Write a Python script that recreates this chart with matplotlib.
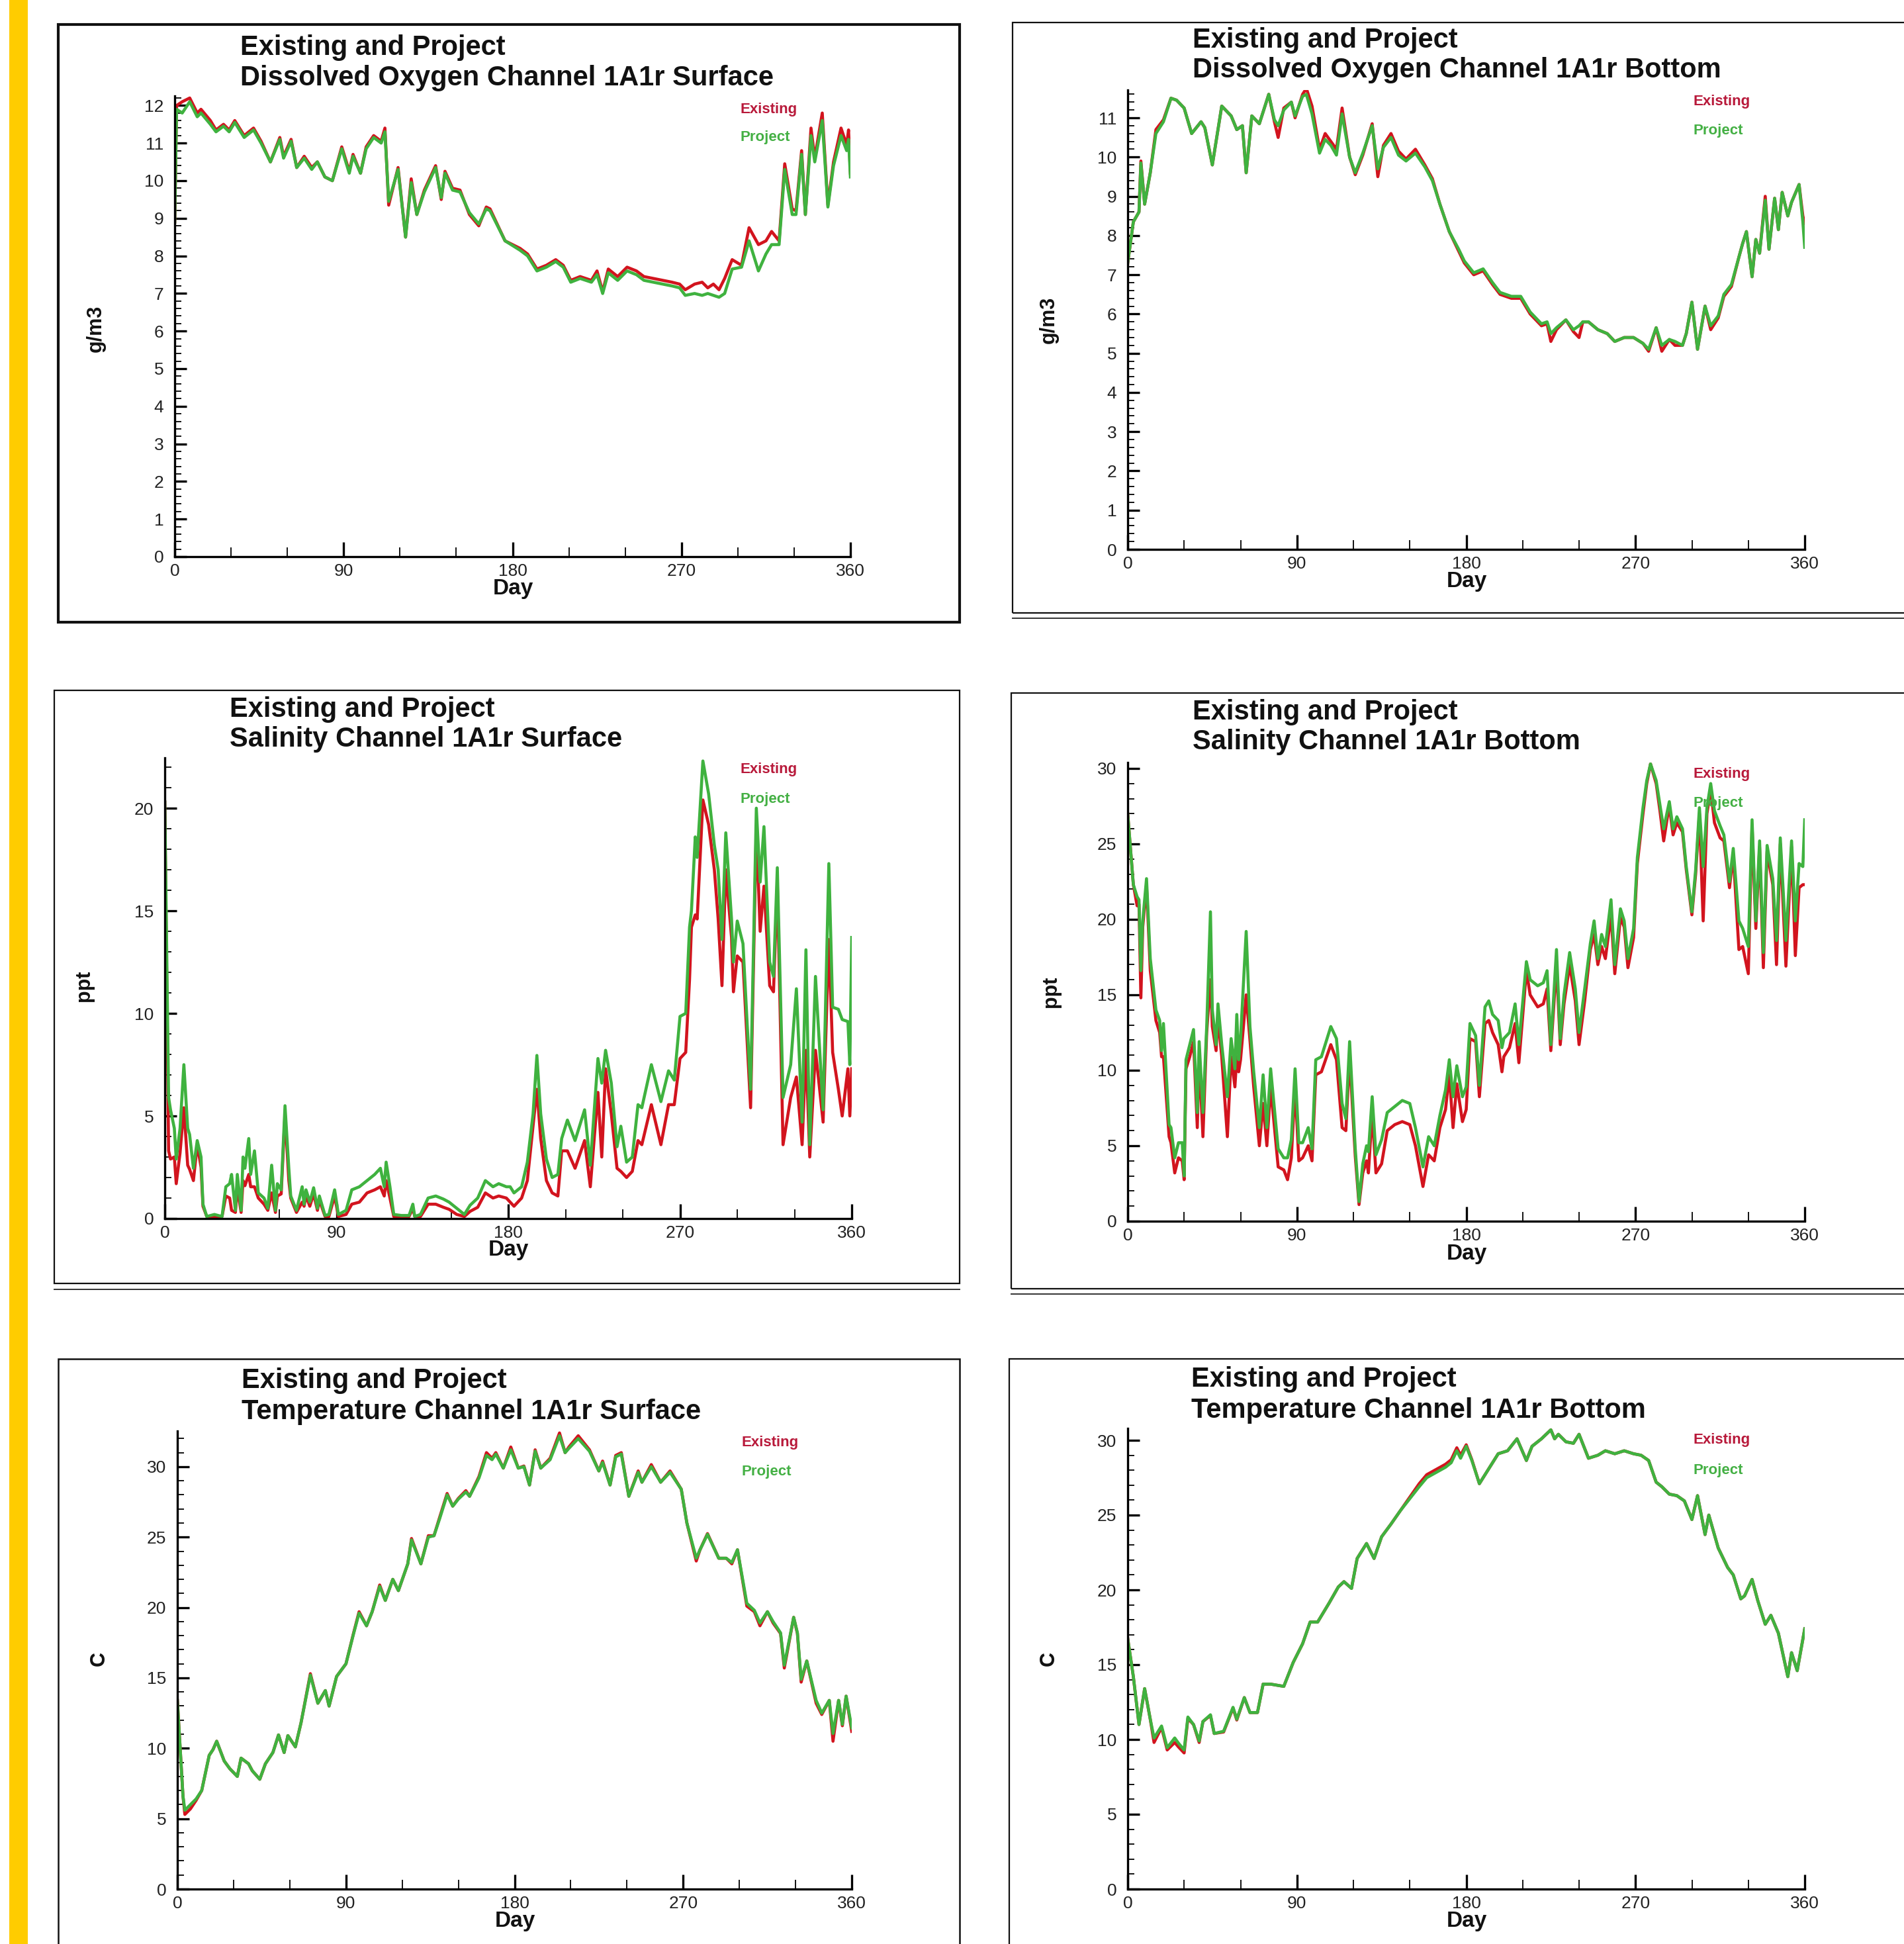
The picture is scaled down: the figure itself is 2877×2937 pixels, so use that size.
import matplotlib
matplotlib.use("Agg")
import matplotlib.pyplot as plt
from matplotlib.patches import Rectangle
from matplotlib.lines import Line2D
from matplotlib.ticker import MultipleLocator, AutoMinorLocator

plt.rcParams['font.family'] = ['Liberation Sans', 'DejaVu Sans']

# ---- data (day, value) ----
do_surf_day = [0, 1, 4, 8, 12, 14, 19, 22, 26, 29,
               32, 37, 42, 46, 51, 56, 58, 62, 65, 69,
               73, 76, 80, 84, 89, 93, 95, 99, 102, 106,
               110, 112, 114, 119, 123, 126, 129, 133, 139, 142,
               144, 148, 152, 157, 162, 166, 168, 176, 184, 188,
               193, 198, 203, 207, 211, 216, 222, 225, 228, 231,
               236, 241, 246, 250, 255, 260, 265, 269, 272, 277,
               281, 284, 287, 290, 293, 297, 302, 306, 311, 315,
               318, 322, 325, 329, 331, 334, 336, 339, 341, 345,
               348, 351, 355, 358, 359, 360]
do_surf_exist = [8.9, 12.0, 12.1, 12.2, 11.8, 11.9, 11.6, 11.35, 11.5, 11.35,
                 11.6, 11.2, 11.4, 11.05, 10.5, 11.15, 10.65, 11.1, 10.35, 10.65,
                 10.35, 10.5, 10.1, 10.0, 10.9, 10.25, 10.7, 10.2, 10.9, 11.2,
                 11.05, 11.4, 9.35, 10.35, 8.5, 10.05, 9.1, 9.75, 10.4, 9.5,
                 10.25, 9.8, 9.75, 9.1, 8.8, 9.3, 9.25, 8.4, 8.2, 8.05,
                 7.65, 7.75, 7.9, 7.75, 7.35, 7.45, 7.35, 7.6, 7.05, 7.65,
                 7.45, 7.7, 7.6, 7.45, 7.4, 7.35, 7.3, 7.25, 7.1, 7.25,
                 7.3, 7.15, 7.25, 7.1, 7.4, 7.9, 7.75, 8.75, 8.3, 8.4,
                 8.65, 8.4, 10.45, 9.25, 9.2, 10.8, 9.1, 11.4, 10.6, 11.8,
                 9.35, 10.5, 11.4, 10.95, 11.35, 10.2]
do_surf_proj = [8.9, 11.9, 11.8, 12.1, 11.7, 11.8, 11.5, 11.3, 11.45, 11.3,
                11.55, 11.15, 11.35, 11.0, 10.5, 11.1, 10.6, 11.05, 10.35, 10.6,
                10.3, 10.5, 10.1, 10.0, 10.85, 10.2, 10.65, 10.2, 10.85, 11.15,
                11.0, 11.3, 9.45, 10.3, 8.5, 9.95, 9.1, 9.7, 10.35, 9.55,
                10.2, 9.75, 9.7, 9.15, 8.85, 9.25, 9.2, 8.4, 8.15, 8.0,
                7.6, 7.7, 7.85, 7.7, 7.3, 7.4, 7.3, 7.5, 7.0, 7.55,
                7.35, 7.6, 7.5, 7.35, 7.3, 7.25, 7.2, 7.15, 6.95, 7.0,
                6.95, 7.0, 6.95, 6.9, 7.0, 7.65, 7.7, 8.4, 7.6, 8.05,
                8.3, 8.3, 10.3, 9.1, 9.1, 10.7, 9.1, 11.2, 10.5, 11.6,
                9.3, 10.4, 11.2, 10.8, 11.1, 10.1]

do_bot_day = [0, 3, 6, 7, 9, 12, 15, 19, 23, 26,
              30, 34, 39, 41, 45, 50, 55, 58, 61, 63,
              66, 70, 72, 75, 78, 80, 83, 87, 89, 93,
              95, 98, 102, 105, 108, 111, 114, 118, 121, 125,
              130, 133, 136, 140, 144, 148, 153, 158, 162, 166,
              171, 176, 179, 184, 189, 194, 198, 204, 209, 214,
              220, 223, 225, 228, 233, 237, 240, 242, 245, 250,
              255, 259, 264, 269, 274, 277, 281, 284, 288, 291,
              295, 297, 300, 303, 307, 310, 314, 317, 321, 325,
              327, 329, 332, 334, 336, 339, 341, 344, 346, 348,
              351, 353, 357, 359, 360]
do_bot_exist = [7.3, 8.35, 8.6, 9.9, 8.8, 9.6, 10.7, 10.95, 11.5, 11.45,
                11.25, 10.6, 10.9, 10.75, 9.8, 11.3, 11.05, 10.7, 10.8, 9.6,
                11.05, 10.85, 11.15, 11.6, 10.9, 10.5, 11.25, 11.4, 11.0, 11.6,
                11.75, 11.3, 10.2, 10.6, 10.4, 10.2, 11.25, 10.0, 9.55, 10.05,
                10.85, 9.5, 10.3, 10.6, 10.15, 9.95, 10.2, 9.8, 9.45, 8.8,
                8.1, 7.6, 7.3, 7.0, 7.1, 6.75, 6.5, 6.4, 6.4, 6.0,
                5.7, 5.75, 5.3, 5.6, 5.85, 5.55, 5.4, 5.8, 5.8, 5.6,
                5.5, 5.3, 5.4, 5.4, 5.25, 5.05, 5.65, 5.05, 5.35, 5.2,
                5.2, 5.5, 6.3, 5.1, 6.2, 5.6, 5.9, 6.45, 6.7, 7.45,
                7.8, 8.1, 6.95, 7.9, 7.55, 9.0, 7.65, 8.95, 8.15, 9.1,
                8.5, 8.85, 9.3, 8.5, 8.3]
do_bot_proj = [7.3, 8.35, 8.6, 9.85, 8.8, 9.6, 10.6, 10.9, 11.5, 11.45,
               11.25, 10.6, 10.9, 10.75, 9.8, 11.3, 11.05, 10.7, 10.8, 9.6,
               11.05, 10.85, 11.15, 11.6, 10.95, 10.8, 11.2, 11.4, 11.05, 11.55,
               11.6, 11.1, 10.1, 10.45, 10.3, 10.05, 11.1, 10.0, 9.6, 10.1,
               10.8, 9.7, 10.25, 10.5, 10.05, 9.9, 10.1, 9.75, 9.4, 8.8,
               8.1, 7.65, 7.35, 7.05, 7.15, 6.8, 6.55, 6.45, 6.45, 6.05,
               5.75, 5.8, 5.5, 5.65, 5.85, 5.6, 5.7, 5.8, 5.8, 5.6,
               5.5, 5.3, 5.4, 5.4, 5.25, 5.1, 5.65, 5.2, 5.35, 5.3,
               5.2, 5.5, 6.3, 5.1, 6.2, 5.7, 5.95, 6.5, 6.75, 7.45,
               7.8, 8.1, 6.95, 7.9, 7.55, 8.9, 7.65, 8.95, 8.15, 9.1,
               8.5, 8.85, 9.3, 8.35, 7.7]

sal_surf_day = [0, 2, 3, 5, 6, 8, 10, 12, 13, 15,
                17, 19, 20, 22, 26, 30, 32, 34, 35, 37,
                38, 40, 41, 42, 44, 45, 47, 49, 52, 54,
                56, 58, 59, 61, 63, 65, 66, 69, 72, 73,
                74, 76, 78, 80, 81, 84, 86, 89, 91, 95,
                98, 102, 106, 110, 113, 115, 116, 118, 120, 124,
                128, 130, 131, 134, 138, 142, 146, 149, 153, 157,
                160, 164, 168, 172, 175, 179, 181, 183, 187, 190,
                193, 195, 197, 200, 203, 206, 208, 211, 215, 220,
                223, 227, 229, 231, 234, 237, 239, 242, 245, 248,
                250, 255, 260, 264, 267, 270, 273, 275, 276, 278,
                279, 282, 285, 288, 290, 292, 294, 297, 298, 300,
                303, 307, 310, 312, 314, 317, 319, 321, 324, 328,
                331, 334, 336, 338, 341, 345, 348, 350, 353, 355,
                358, 359, 360]
sal_surf_exist = [20.3, 3.3, 2.9, 3.0, 1.7, 3.2, 5.4, 2.6, 2.4, 1.85,
                  3.6, 2.5, 0.6, 0.1, 0.1, 0.1, 1.1, 1.0, 0.4, 0.3,
                  1.5, 0.3, 1.85, 1.6, 2.15, 1.55, 1.55, 1.0, 0.7, 0.4,
                  1.25, 0.3, 1.1, 1.2, 5.1, 1.85, 1.0, 0.3, 0.8, 0.6,
                  1.1, 0.6, 1.2, 0.4, 0.9, 0.1, 0.1, 1.1, 0.1, 0.2,
                  0.7, 0.8, 1.25, 1.4, 1.55, 1.1, 1.85, 1.0, 0.1, 0.1,
                  0.1, 0.5, 0.1, 0.1, 0.7, 0.7, 0.55, 0.45, 0.2, 0.1,
                  0.35, 0.55, 1.25, 1.0, 1.1, 1.0, 0.8, 0.6, 1.0, 1.85,
                  4.5, 6.3, 3.9, 1.85, 1.25, 1.1, 3.3, 3.3, 2.45, 3.8,
                  1.55, 6.15, 3.0, 7.3, 5.1, 2.45, 2.3, 2.0, 2.3, 3.8,
                  3.6, 5.55, 3.6, 5.55, 5.55, 7.8, 8.1, 11.65, 14.2, 14.8,
                  14.6, 20.4, 19.2, 17.0, 14.6, 11.35, 17.0, 13.7, 11.05, 12.8,
                  12.5, 5.4, 19.1, 14.0, 16.2, 11.35, 11.05, 16.4, 3.6, 5.9,
                  6.9, 3.6, 8.2, 3.0, 8.2, 4.7, 13.6, 8.1, 6.3, 5.0,
                  7.3, 5.0, 7.3]
sal_surf_proj = [20.3, 5.9, 5.3, 4.4, 2.9, 4.4, 7.5, 4.4, 4.1, 2.45,
                 3.8, 3.0, 0.7, 0.1, 0.2, 0.1, 1.55, 1.7, 2.15, 0.4,
                 2.15, 0.4, 3.0, 2.45, 3.9, 2.15, 3.3, 1.25, 1.0, 0.5,
                 2.6, 0.4, 1.7, 1.4, 5.5, 2.45, 1.1, 0.4, 1.55, 0.7,
                 1.4, 0.8, 1.5, 0.5, 1.1, 0.15, 0.2, 1.4, 0.2, 0.4,
                 1.4, 1.55, 1.85, 2.15, 2.45, 1.55, 2.75, 1.55, 0.2, 0.15,
                 0.15, 0.7, 0.1, 0.2, 1.0, 1.1, 0.95, 0.8, 0.5, 0.2,
                 0.65, 1.0, 1.85, 1.55, 1.7, 1.55, 1.55, 1.25, 1.55, 2.75,
                 5.1, 7.95, 5.1, 2.9, 2.0, 2.15, 3.9, 4.8, 3.8, 5.3,
                 2.6, 7.8, 6.6, 8.2, 6.6, 3.5, 4.5, 2.75, 3.0, 5.55,
                 5.4, 7.5, 5.7, 7.2, 6.75, 9.85, 10.0, 14.2, 15.0, 18.6,
                 17.6, 22.3, 20.7, 18.2, 17.0, 13.6, 18.8, 14.6, 12.5, 14.5,
                 13.4, 6.3, 20.0, 16.4, 19.1, 12.5, 11.8, 17.1, 5.9, 7.5,
                 11.2, 4.7, 13.1, 3.6, 11.8, 5.3, 17.3, 10.3, 10.2, 9.7,
                 9.6, 7.5, 13.7]

sal_bot_day = [0, 3, 5, 6, 7, 8, 10, 12, 15, 17,
               18, 19, 22, 23, 25, 27, 29, 30, 31, 33,
               35, 37, 38, 40, 42, 44, 45, 47, 48, 50,
               53, 55, 57, 58, 59, 60, 63, 65, 67, 70,
               72, 74, 76, 80, 83, 85, 87, 89, 91, 93,
               96, 98, 100, 103, 108, 111, 114, 116, 118, 121,
               123, 125, 127, 128, 130, 132, 135, 138, 142, 146,
               150, 153, 157, 160, 163, 166, 169, 171, 173, 175,
               178, 180, 182, 185, 187, 190, 192, 194, 197, 199,
               200, 203, 206, 208, 212, 214, 218, 221, 223, 225,
               228, 230, 232, 235, 238, 240, 243, 246, 248, 250,
               252, 254, 257, 259, 262, 264, 266, 269, 271, 274,
               276, 278, 281, 283, 285, 287, 288, 290, 292, 295,
               297, 300, 302, 304, 306, 308, 310, 312, 315, 317,
               320, 322, 325, 327, 330, 332, 334, 336, 338, 340,
               343, 345, 347, 350, 353, 355, 357, 359, 360]
sal_bot_exist = [27.0, 22.3, 20.9, 21.0, 14.8, 19.5, 22.3, 16.6, 13.3, 12.5,
                 10.9, 10.9, 5.6, 5.2, 3.2, 4.2, 4.0, 2.75, 10.1, 10.9,
                 11.9, 6.2, 10.9, 5.6, 12.5, 16.0, 12.9, 11.3, 13.5, 10.9,
                 5.6, 10.9, 8.9, 10.9, 9.9, 10.7, 15.0, 12.0, 8.9, 5.0,
                 7.8, 5.0, 8.9, 3.6, 3.4, 2.75, 4.2, 8.9, 4.0, 4.2,
                 5.0, 4.0, 9.7, 9.9, 11.7, 10.7, 6.2, 6.0, 10.9, 4.3,
                 1.1, 3.2, 4.0, 3.2, 7.2, 3.2, 3.8, 6.0, 6.4, 6.6,
                 6.4, 5.0, 2.3, 4.4, 4.0, 6.2, 7.4, 9.7, 6.2, 9.1,
                 6.6, 7.4, 12.1, 11.9, 8.25, 13.1, 13.3, 12.5, 11.7, 9.9,
                 10.9, 11.5, 13.1, 10.5, 16.6, 15.0, 14.2, 14.4, 15.4, 11.3,
                 17.0, 11.7, 14.4, 17.0, 14.6, 11.7, 14.6, 18.0, 19.0, 17.0,
                 18.2, 17.4, 20.3, 16.4, 20.1, 19.5, 16.8, 18.8, 23.7, 27.0,
                 29.0, 30.3, 29.0, 27.2, 25.2, 26.8, 27.5, 25.6, 26.4, 25.8,
                 23.3, 20.3, 23.0, 27.0, 19.9, 27.0, 28.6, 26.4, 25.4, 25.2,
                 22.1, 24.3, 18.0, 18.2, 16.4, 26.2, 19.4, 24.8, 16.8, 24.5,
                 22.3, 17.0, 25.0, 16.9, 24.8, 17.6, 22.1, 22.3, 22.3]
sal_bot_proj = [27.0, 22.3, 21.5, 21.3, 16.6, 19.9, 22.7, 17.4, 14.0, 13.3,
                11.3, 13.1, 6.4, 6.2, 4.2, 5.2, 5.2, 3.0, 10.7, 11.7,
                12.7, 7.2, 11.9, 7.2, 12.9, 20.5, 14.0, 11.7, 14.4, 11.7,
                8.25, 12.1, 10.1, 13.7, 10.7, 12.1, 19.2, 12.9, 9.9, 6.2,
                9.7, 6.2, 10.1, 4.8, 4.2, 4.2, 5.4, 10.1, 5.2, 5.2,
                6.2, 4.8, 10.7, 10.9, 12.9, 12.1, 7.8, 6.8, 11.9, 4.8,
                1.3, 3.8, 5.0, 4.6, 8.25, 4.4, 5.4, 7.2, 7.6, 8.0,
                7.8, 6.2, 3.6, 5.6, 5.0, 7.0, 8.7, 10.7, 8.25, 10.3,
                8.25, 8.9, 13.1, 12.3, 9.0, 14.2, 14.6, 13.7, 13.3, 11.5,
                12.1, 12.5, 14.4, 11.7, 17.2, 16.0, 15.6, 15.8, 16.6, 11.7,
                18.0, 12.1, 15.0, 17.8, 15.4, 12.5, 15.4, 18.4, 19.9, 17.4,
                19.0, 18.2, 21.3, 17.0, 20.7, 19.9, 17.4, 19.4, 24.1, 27.4,
                29.2, 30.3, 29.2, 27.6, 26.0, 27.2, 27.8, 26.0, 26.8, 26.0,
                23.5, 20.5, 23.3, 27.4, 23.5, 27.4, 29.0, 27.2, 26.2, 25.6,
                22.5, 24.7, 19.9, 19.4, 18.2, 26.6, 19.9, 25.2, 17.8, 24.9,
                22.7, 18.6, 25.4, 18.6, 25.2, 19.9, 23.7, 23.5, 26.6]

temp_surf_day = [0, 3, 4, 7, 10, 13, 17, 19, 21, 25,
                 28, 32, 34, 38, 40, 44, 47, 51, 54, 57,
                 59, 63, 66, 71, 75, 79, 81, 85, 90, 94,
                 97, 101, 104, 108, 111, 115, 118, 123, 125, 130,
                 134, 137, 140, 144, 147, 150, 154, 156, 161, 165,
                 168, 170, 174, 178, 182, 185, 188, 191, 194, 199,
                 204, 207, 209, 214, 220, 225, 227, 231, 234, 237,
                 241, 246, 248, 253, 258, 263, 269, 272, 277, 279,
                 283, 289, 293, 296, 299, 304, 308, 311, 315, 318,
                 322, 324, 329, 331, 333, 336, 341, 344, 348, 350,
                 353, 355, 357, 360]
temp_surf_exist = [13.4, 6.6, 5.3, 5.7, 6.3, 7.0, 9.5, 9.9, 10.5, 9.1,
                   8.55, 8.0, 9.3, 8.9, 8.4, 7.8, 8.9, 9.7, 10.95, 9.7,
                   10.9, 10.1, 11.8, 15.3, 13.2, 14.1, 13.0, 15.1, 16.0, 18.15,
                   19.7, 18.7, 19.7, 21.6, 20.5, 22.0, 21.2, 23.1, 24.9, 23.1,
                   25.1, 25.1, 26.4, 28.1, 27.2, 27.75, 28.3, 27.9, 29.3, 31.0,
                   30.6, 31.0, 29.9, 31.4, 29.9, 30.05, 28.7, 31.2, 29.9, 30.6,
                   32.4, 31.0, 31.4, 32.2, 31.2, 29.7, 30.4, 28.7, 30.8, 31.0,
                   27.9, 29.7, 28.9, 30.15, 28.9, 29.7, 28.4, 26.0, 23.3, 24.1,
                   25.25, 23.5, 23.5, 23.1, 24.1, 20.1, 19.7, 18.7, 19.7, 18.9,
                   18.15, 15.7, 19.3, 18.15, 14.7, 16.2, 13.2, 12.4, 13.4, 10.5,
                   13.4, 11.6, 13.7, 11.2]
temp_surf_proj = [13.4, 6.6, 5.6, 6.0, 6.4, 7.0, 9.5, 9.9, 10.5, 9.1,
                  8.55, 8.0, 9.3, 8.9, 8.4, 7.8, 8.9, 9.7, 10.95, 9.7,
                  10.9, 10.1, 11.8, 15.2, 13.2, 14.1, 13.0, 15.1, 16.0, 18.1,
                  19.6, 18.7, 19.7, 21.5, 20.5, 22.0, 21.2, 23.1, 24.8, 23.1,
                  25.0, 25.1, 26.3, 28.0, 27.2, 27.7, 28.2, 27.9, 29.2, 30.8,
                  30.5, 30.9, 29.9, 31.2, 29.9, 30.0, 28.7, 31.1, 29.9, 30.5,
                  32.2, 31.0, 31.3, 32.0, 31.1, 29.7, 30.3, 28.7, 30.7, 30.9,
                  27.9, 29.6, 28.9, 30.0, 28.9, 29.6, 28.4, 26.0, 23.5, 24.1,
                  25.2, 23.5, 23.5, 23.2, 24.1, 20.3, 19.8, 18.9, 19.7, 19.0,
                  18.2, 15.9, 19.3, 18.2, 14.9, 16.2, 13.4, 12.5, 13.4, 11.05,
                  13.4, 11.7, 13.7, 11.45]

temp_bot_day = [0, 3, 6, 9, 12, 14, 18, 21, 25, 27,
                30, 32, 35, 38, 40, 44, 46, 51, 56, 58,
                62, 65, 69, 72, 76, 83, 88, 93, 97, 101,
                107, 112, 115, 119, 122, 127, 131, 135, 140, 145,
                150, 155, 159, 164, 169, 172, 175, 177, 180, 183,
                187, 189, 193, 197, 202, 207, 212, 215, 220, 225,
                227, 229, 233, 237, 240, 245, 250, 254, 259, 264,
                269, 273, 277, 281, 284, 288, 292, 296, 300, 303,
                307, 309, 314, 319, 322, 326, 328, 332, 335, 339,
                342, 346, 351, 353, 356, 358, 360]
temp_bot_exist = [16.75, 14.2, 11.0, 13.4, 11.35, 9.8, 10.8, 9.3, 9.8, 9.5,
                  9.1, 11.4, 11.0, 9.8, 11.2, 11.6, 10.4, 10.5, 12.1, 11.3,
                  12.8, 11.8, 11.8, 13.7, 13.7, 13.55, 15.15, 16.4, 17.85, 17.85,
                  19.1, 20.2, 20.55, 20.1, 22.1, 23.1, 22.1, 23.55, 24.4, 25.3,
                  26.2, 27.1, 27.7, 28.05, 28.4, 28.7, 29.5, 29.0, 29.7, 28.7,
                  27.1, 27.5, 28.3, 29.1, 29.3, 30.1, 28.65, 29.6, 30.1, 30.7,
                  30.1, 30.4, 29.9, 29.8, 30.4, 28.8, 29.0, 29.3, 29.1, 29.3,
                  29.1, 29.0, 28.65, 27.2, 26.9, 26.4, 26.3, 25.95, 24.7, 26.3,
                  23.7, 25.0, 22.8, 21.5, 21.0, 19.4, 19.6, 20.7, 19.3, 17.7,
                  18.3, 17.1, 14.2, 15.8, 14.6, 16.0, 17.4]
temp_bot_proj = [16.75, 14.2, 11.0, 13.4, 11.35, 10.1, 10.9, 9.45, 10.1, 9.75,
                 9.3, 11.5, 11.0, 9.9, 11.2, 11.65, 10.4, 10.55, 12.15, 11.35,
                 12.8, 11.8, 11.8, 13.7, 13.7, 13.55, 15.15, 16.4, 17.85, 17.85,
                 19.1, 20.2, 20.55, 20.1, 22.1, 23.1, 22.1, 23.55, 24.4, 25.3,
                 26.1, 26.9, 27.5, 27.85, 28.2, 28.5, 29.3, 28.8, 29.6, 28.65,
                 27.1, 27.5, 28.3, 29.1, 29.3, 30.1, 28.65, 29.6, 30.1, 30.7,
                 30.1, 30.4, 29.9, 29.8, 30.4, 28.8, 29.0, 29.3, 29.1, 29.3,
                 29.1, 29.0, 28.65, 27.2, 26.9, 26.4, 26.3, 25.95, 24.7, 26.3,
                 23.7, 25.0, 22.8, 21.5, 21.0, 19.4, 19.6, 20.7, 19.3, 17.7,
                 18.3, 17.1, 14.2, 15.8, 14.6, 16.0, 17.4]

title_top = "Existing and Project"
titles = ["Dissolved Oxygen Channel 1A1r Surface", "Dissolved Oxygen Channel 1A1r Bottom",
          "Salinity Channel 1A1r Surface", "Salinity Channel 1A1r Bottom",
          "Temperature Channel 1A1r Surface", "Temperature Channel 1A1r Bottom"]
units = ["g/m3", "g/m3", "ppt", "ppt", "C", "C"]
day_ticks = [0, 90, 180, 270, 360]

# ---- layout (pixels in the 2877 x 2937 canvas) ----
W, H = 2877, 2937
RED = '#d2141e'
GREEN = '#3fb23f'

panels = [
    # axes left, right, y of zero, px per unit, y max, major step
    dict(days=do_surf_day, ex=do_surf_exist, pr=do_surf_proj,
         ax=(264, 1285, 841, 56.8, 12.25, 1), title=(363, 83, 129),
         ylab=(145, 496), dayl=(775, 890), leg=(1118, 165, 208)),
    dict(days=do_bot_day, ex=do_bot_exist, pr=do_bot_proj,
         ax=(1704, 2727, 830, 59.27, 11.71, 1), title=(1802, 72, 117),
         ylab=(1585, 483), dayl=(2216, 879), leg=(2558, 154, 197)),
    dict(days=sal_surf_day, ex=sal_surf_exist, pr=sal_surf_proj,
         ax=(249, 1287, 1841, 31.0, 22.45, 5), title=(347, 1083, 1128),
         ylab=(127, 1489), dayl=(768, 1888), leg=(1118, 1163, 1208)),
    dict(days=sal_bot_day, ex=sal_bot_exist, pr=sal_bot_proj,
         ax=(1704, 2727, 1845, 22.8, 30.4, 5), title=(1802, 1087, 1132),
         ylab=(1588, 1498), dayl=(2216, 1894), leg=(2558, 1169, 1214)),
    dict(days=temp_surf_day, ex=temp_surf_exist, pr=temp_surf_proj,
         ax=(268, 1287, 2854, 21.27, 32.55, 5), title=(365, 2097, 2144),
         ylab=(150, 2506), dayl=(778, 2902), leg=(1120, 2180, 2223)),
    dict(days=temp_bot_day, ex=temp_bot_exist, pr=temp_bot_proj,
         ax=(1704, 2727, 2854, 22.6, 30.8, 5), title=(1800, 2095, 2142),
         ylab=(1585, 2506), dayl=(2216, 2902), leg=(2558, 2176, 2221)),
]

fig = plt.figure(figsize=(W / 100, H / 100), dpi=100)
fig.patch.set_facecolor('white')


def fx(x):
    return x / W


def fy(y):
    return 1 - y / H


# yellow side bar
fig.add_artist(Rectangle((fx(14), 0), fx(28), 1, transform=fig.transFigure,
                         facecolor='#ffcc00', edgecolor='none'))

# panel frames: (left, top, right, bottom, double bottom line, width)
frames = [(88, 37, 1450, 940, None, 3.0),
          (1530, 34, W + 20, 926, 934, 1.6),
          (82, 1043, 1450, 1939, 1948, 1.6),
          (1528, 1047, W + 20, 1947, 1955, 1.6),
          (88, 2053, 1450, H + 20, None, 1.8),
          (1525, 2053, W + 20, H + 20, None, 1.6)]
for l, t, r, b, b2, lw in frames:
    fig.add_artist(Rectangle((fx(l), fy(b)), fx(r - l), (b - t) / H,
                             transform=fig.transFigure, fill=False,
                             edgecolor='#111111', linewidth=lw))
    if b2 is not None:
        fig.add_artist(Line2D([fx(l), fx(r)], [fy(b2), fy(b2)],
                              transform=fig.transFigure, color='#333333', linewidth=1.4))

for i, p in enumerate(panels):
    left, right, y0, unit, ymax, step = p['ax']
    top = y0 - ymax * unit
    ax = fig.add_axes([fx(left), fy(y0), fx(right - left), (y0 - top) / H])
    ax.patch.set_alpha(0)
    ax.plot(p['days'], p['ex'], color=RED, linewidth=3.3, solid_joinstyle='round')
    ax.plot(p['days'], p['pr'], color=GREEN, linewidth=3.3, solid_joinstyle='round')
    ax.set_xlim(0, 360)
    ax.set_ylim(0, ymax)
    for s in ['top', 'right']:
        ax.spines[s].set_visible(False)
    for s in ['left', 'bottom']:
        ax.spines[s].set_linewidth(2.4)
        ax.spines[s].set_color('black')
    ax.set_xticks(day_ticks)
    ax.xaxis.set_minor_locator(MultipleLocator(30))
    ax.yaxis.set_major_locator(MultipleLocator(step))
    ax.yaxis.set_minor_locator(AutoMinorLocator(5))
    ax.tick_params(axis='x', which='major', direction='in', length=16, width=2.4,
                   labelsize=19, pad=7, colors='black', labelcolor='#222222')
    ax.tick_params(axis='x', which='minor', direction='in', length=10, width=1.3)
    ax.tick_params(axis='y', which='major', direction='in', length=13, width=2.4,
                   labelsize=19, pad=12, labelcolor='#222222')
    ax.tick_params(axis='y', which='minor', direction='in', length=7, width=1.3)

    tx, ty1, ty2 = p['title']
    fig.text(fx(tx), fy(ty1), title_top, fontsize=30, fontweight='bold',
             ha='left', va='baseline', color='#111111')
    fig.text(fx(tx), fy(ty2), titles[i], fontsize=30, fontweight='bold',
             ha='left', va='baseline', color='#111111')
    yx, yy = p['ylab']
    fig.text(fx(yx), fy(yy), units[i], fontsize=22, fontweight='bold',
             rotation=90, ha='center', va='center', color='#111111')
    dx, dy = p['dayl']
    fig.text(fx(dx), fy(dy), "Day", fontsize=24, fontweight='bold',
             ha='center', va='center', color='#111111')
    lx, ly1, ly2 = p['leg']
    fig.text(fx(lx), fy(ly1), "Existing", fontsize=16, fontweight='bold',
             ha='left', va='center', color='#b8193a')
    fig.text(fx(lx), fy(ly2), "Project", fontsize=16, fontweight='bold',
             ha='left', va='center', color='#44b044')

fig.savefig("out.png", dpi=100, facecolor='white')
